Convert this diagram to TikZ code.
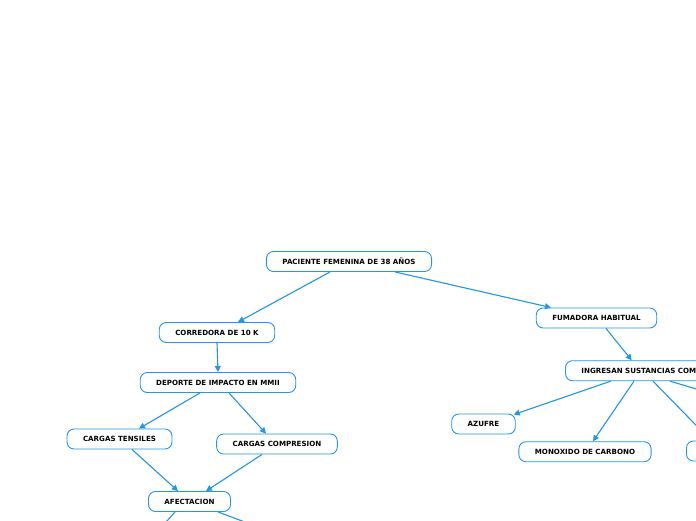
\documentclass[tikz,border=0pt]{standalone}
\usepackage{fontspec}
\setmainfont{DejaVu Sans}
\usepackage{xcolor}
\usetikzlibrary{arrows.meta, positioning}

\definecolor{mapblue}{RGB}{35,150,228}

\begin{document}
\begin{tikzpicture}[
    x=1pt, y=-1pt,
    >={Triangle[length=6pt, width=6pt]},
    idea/.style={rectangle, draw=mapblue, line width=0.9pt, fill=white, rounded corners=7pt, minimum height=20pt, inner xsep=16pt, inner ysep=0pt, font=\bfseries\fontsize{7.1}{8}\selectfont},
    link/.style={->, draw=mapblue, fill=mapblue, line width=1.1pt},
]

    \useasboundingbox (0,0) rectangle (696,520);
    \clip (0,0) rectangle (696,520);

    % ===== ROOT =====
    \node[idea] (pac) at (349,261.5) {PACIENTE FEMENINA DE 38 AÑOS};

    % ===== LEFT BRANCH =====
    \node[idea] (cor) at (217,332.5) {CORREDORA DE 10 K};
    \node[idea] (dep) at (218,382.5) {DEPORTE DE IMPACTO EN MMII};
    \node[idea] (ten) at (119.5,439) {CARGAS TENSILES};
    \node[idea] (com) at (277,444) {CARGAS COMPRESION};
    \node[idea] (afe) at (189.5,501.5) {AFECTACION};

    % ===== RIGHT BRANCH =====
    \node[idea] (fum) at (596.5,318) {FUMADORA HABITUAL};
    \node[idea, anchor=west] (ing) at (565,370.7) {INGRESAN SUSTANCIAS COMO};
    \node[idea] (azu) at (483.5,424) {AZUFRE};
    \node[idea] (mon) at (585,451.7) {MONOXIDO DE CARBONO};
    \node[idea, anchor=west, minimum width=60pt] (sub) at (686,451) {};

    % loose ends running off the page
    \coordinate (afeL) at (150,540);
    \coordinate (afeR) at (282,536);
    \coordinate (ingR) at (780,414);

    % ===== EDGES =====
    \draw[link] ([xshift=-19pt]pac.south) -- ([xshift=21pt]cor.north);
    \draw[link] ([xshift=46pt]pac.south) -- ([xshift=-45.5pt]fum.north);
    \draw[link] (cor.south) -- (dep.north);
    \draw[link] ([xshift=-18pt]dep.south) -- ([xshift=19.5pt]ten.north);
    \draw[link] ([xshift=11pt]dep.south) -- ([xshift=-11pt]com.north);
    \draw[link] ([xshift=12.5pt]ten.south) -- ([xshift=-11.5pt]afe.north);
    \draw[link] ([xshift=-15pt]com.south) -- ([xshift=16.5pt]afe.north);
    \draw[link] ([xshift=-14.5pt]afe.south) -- (afeL);
    \draw[link] ([xshift=28.5pt]afe.south) -- (afeR);

    \draw[link] ([xshift=9.5pt]fum.south) -- ([xshift=66.7pt]ing.north west);
    \draw[link] ([xshift=45.7pt]ing.south west) -- ([xshift=-2pt, yshift=-1pt]azu.north east);
    \draw[link] ([xshift=69pt]ing.south west) -- ([xshift=8pt]mon.north);
    \draw[link] ([xshift=88pt]ing.south west) -- ([xshift=25pt]sub.north west);
    \draw[link] ([xshift=105pt]ing.south west) -- (ingR);

\end{tikzpicture}
\end{document}
